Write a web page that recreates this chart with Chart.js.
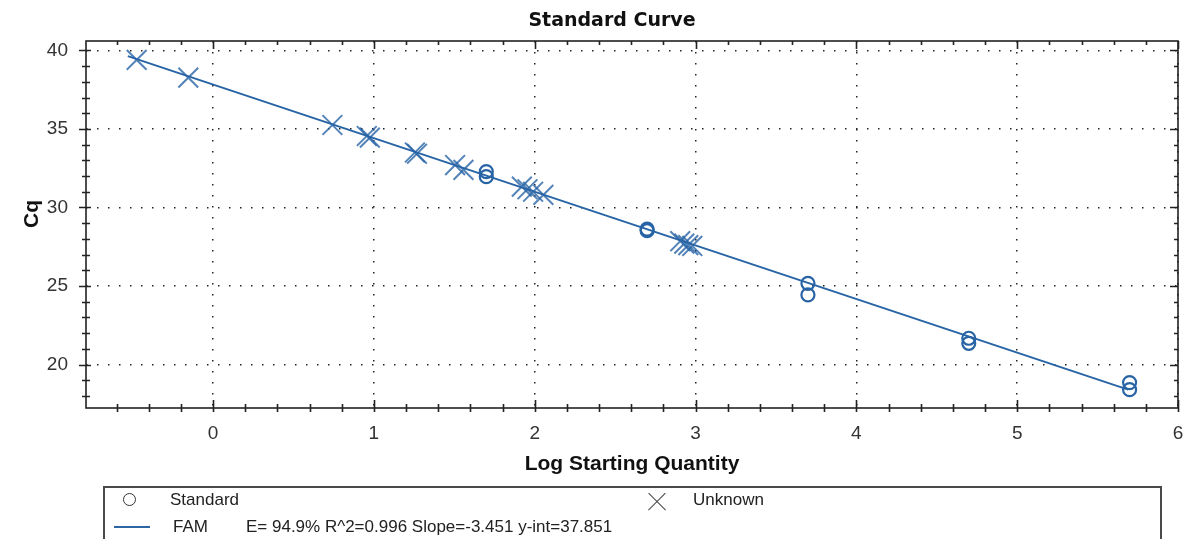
<!DOCTYPE html>
<html>
<head>
<meta charset="utf-8">
<script src="https://cdn.jsdelivr.net/npm/chart.js@4.4.1/dist/chart.umd.min.js"></script>
<style>
    body { margin: 0; background: #fff; overflow: hidden; font-family: "Liberation Sans", Arial, sans-serif; color: #222; }
    #wrap { position: relative; width: 1186px; height: 539px; }
    .title { position: absolute; left: 612px; top: 8px; transform: translateX(-50%); font-family: "DejaVu Sans", sans-serif; font-weight: bold; font-size: 19px; color: #111; white-space: nowrap; }
    .ytitle { position: absolute; left: 31px; top: 214px; transform: translate(-50%, -50%) rotate(-90deg); font-weight: bold; font-size: 21px; color: #111; white-space: nowrap; }
    .legend-box { position: absolute; left: 103px; top: 486px; width: 1055px; height: 80px; border: 2px solid #4a4a4a; }
    .lg-text { position: absolute; font-size: 17px; line-height: 19px; white-space: nowrap; color: #222; }
    .lg-circle { position: absolute; width: 11px; height: 11px; border: 1.5px solid #333; border-radius: 50%; }
    .lg-cross { position: absolute; width: 22px; height: 22px; }
    .lg-cross::before, .lg-cross::after { content: ""; position: absolute; left: -1px; top: 10px; width: 24px; height: 1.3px; background: #444; }
    .lg-cross::before { transform: rotate(45deg); }
    .lg-cross::after { transform: rotate(-45deg); }
    .lg-line { position: absolute; width: 36px; height: 2px; background: #2c67a3; }
</style>
</head>
<body>
<div id="wrap">
    <canvas id="curve"></canvas>
    <div class="title">Standard Curve</div>
    <div class="ytitle">Cq</div>
    <div class="legend-box"></div>
    <div class="lg-circle" style="left:123px; top:493px;"></div>
    <div class="lg-text" style="left:170px; top:490px;">Standard</div>
    <div class="lg-cross" style="left:646px; top:491px;"></div>
    <div class="lg-text" style="left:693px; top:490px;">Unknown</div>
    <div class="lg-line" style="left:114px; top:526px;"></div>
    <div class="lg-text" style="left:173px; top:517px;">FAM</div>
    <div class="lg-text" style="left:246px; top:517px;">E= 94.9% R^2=0.996 Slope=-3.451 y-int=37.851</div>
</div>
<script>
const standardLogQty = [1.699, 1.699, 2.699, 2.699, 3.699, 3.699, 4.699, 4.699, 5.699, 5.699];
const standardCq = [32.28, 31.96, 28.62, 28.52, 25.17, 24.43, 21.67, 21.35, 18.85, 18.40];

const unknownLogQty = [-0.475, -0.154, 0.742, 0.956, 0.975, 1.255, 1.268, 1.505, 1.557,
    1.920, 1.955, 1.990, 2.054, 2.905, 2.930, 2.955, 2.980];
const unknownCq = [39.40, 38.27, 35.25, 34.55, 34.45, 33.50, 33.42, 32.70, 32.39,
    31.33, 31.16, 31.00, 30.80, 27.85, 27.70, 27.60, 27.55];

const fitLogQty = [-0.53, 5.69];
const fitCq = [39.64, 18.40];

const blue = "rgb(40, 100, 165)";
const isWhole = (v, step) => Math.abs(v / step - Math.round(v / step)) < 1e-6;

function toPoints(xs, ys) {
    return xs.map((x, i) => ({ x: x, y: ys[i] }));
}

// one tick every `step` inside the scale range
function stepTicks(scale, step) {
    const ticks = [];
    const first = Math.ceil(scale.min / step - 1e-9);
    const last = Math.floor(scale.max / step + 1e-9);
    for (let i = first; i <= last; i++) {
        ticks.push({ value: Math.round(i * step * 1000) / 1000 });
    }
    scale.ticks = ticks;
}

// frame + tick marks that cross the axes, like the qPCR software draws them
const frameTicks = {
    id: "frameTicks",
    afterDraw(chart) {
        const { ctx, chartArea: a, scales: { x, y } } = chart;
        ctx.save();
        ctx.strokeStyle = "#222";
        ctx.lineWidth = 1.6;
        ctx.strokeRect(a.left, a.top, a.right - a.left, a.bottom - a.top);
        ctx.beginPath();
        x.ticks.forEach(t => {
            const px = Math.round(x.getPixelForValue(t.value)) + 0.5;
            const len = isWhole(t.value, 1) ? 8 : 4;
            ctx.moveTo(px, a.bottom + 4);
            ctx.lineTo(px, a.bottom - len);
            ctx.moveTo(px, a.top);
            ctx.lineTo(px, a.top + len);
        });
        y.ticks.forEach(t => {
            const py = Math.round(y.getPixelForValue(t.value)) + 0.5;
            const major = isWhole(t.value, 5);
            ctx.moveTo(a.left - (major ? 7 : 4), py);
            ctx.lineTo(a.left + (major ? 5 : 4), py);
            ctx.moveTo(a.right, py);
            ctx.lineTo(a.right - (major ? 8 : 4), py);
        });
        ctx.stroke();
        ctx.restore();
    }
};

Chart.defaults.font.family = "'Liberation Sans', Arial, sans-serif";
Chart.defaults.color = "#333";

new Chart(document.getElementById("curve"), {
    type: "scatter",
    data: {
        datasets: [
            {
                label: "FAM",
                data: toPoints(fitLogQty, fitCq),
                showLine: true,
                borderColor: blue,
                borderWidth: 2,
                pointRadius: 0
            },
            {
                label: "Standard",
                data: toPoints(standardLogQty, standardCq),
                pointStyle: "circle",
                pointRadius: 6.5,
                borderWidth: 2.2,
                borderColor: blue,
                backgroundColor: "rgba(0,0,0,0)"
            },
            {
                label: "Unknown",
                data: toPoints(unknownLogQty, unknownCq),
                pointStyle: "crossRot",
                pointRadius: 14,
                borderWidth: 2,
                borderColor: "rgba(40, 100, 165, 0.8)"
            }
        ]
    },
    options: {
        responsive: true,
        maintainAspectRatio: false,
        animation: false,
        layout: {
            autoPadding: false,
            padding: { top: 41, right: 8, bottom: 62, left: 0 }
        },
        plugins: {
            legend: { display: false },
            tooltip: { enabled: false }
        },
        scales: {
            x: {
                type: "linear",
                min: -0.79,
                max: 6,
                afterBuildTicks: scale => stepTicks(scale, 0.2),
                afterFit: scale => {
                    scale.height = 69;
                    scale.paddingLeft = 0;
                    scale.paddingRight = 0;
                },
                border: { display: false, dash: [1.5, 9.5] },
                grid: {
                    drawTicks: false,
                    lineWidth: 1.5,
                    color: c => c.tick && isWhole(c.tick.value, 1) ? "#222" : "rgba(0,0,0,0)"
                },
                ticks: {
                    autoSkip: false,
                    maxRotation: 0,
                    padding: 14,
                    font: { size: 19 },
                    callback: v => isWhole(v, 1) ? String(Math.round(v)) : ""
                },
                title: {
                    display: true,
                    text: "Log Starting Quantity",
                    color: "#111",
                    font: { size: 21, weight: "bold" },
                    padding: { top: 0, bottom: 0 }
                }
            },
            y: {
                min: 17.23,
                max: 40.6,
                afterBuildTicks: scale => stepTicks(scale, 1),
                afterFit: scale => {
                    scale.width = 86;
                    scale.paddingTop = 0;
                    scale.paddingBottom = 0;
                },
                border: { display: false, dash: [1.5, 9.5] },
                grid: {
                    drawTicks: false,
                    lineWidth: 1.5,
                    color: c => c.tick && isWhole(c.tick.value, 5) ? "#222" : "rgba(0,0,0,0)"
                },
                ticks: {
                    autoSkip: false,
                    padding: 18,
                    font: { size: 19 },
                    callback: v => isWhole(v, 5) ? String(Math.round(v)) : ""
                }
            }
        }
    },
    plugins: [frameTicks]
});
</script>
</body>
</html>
